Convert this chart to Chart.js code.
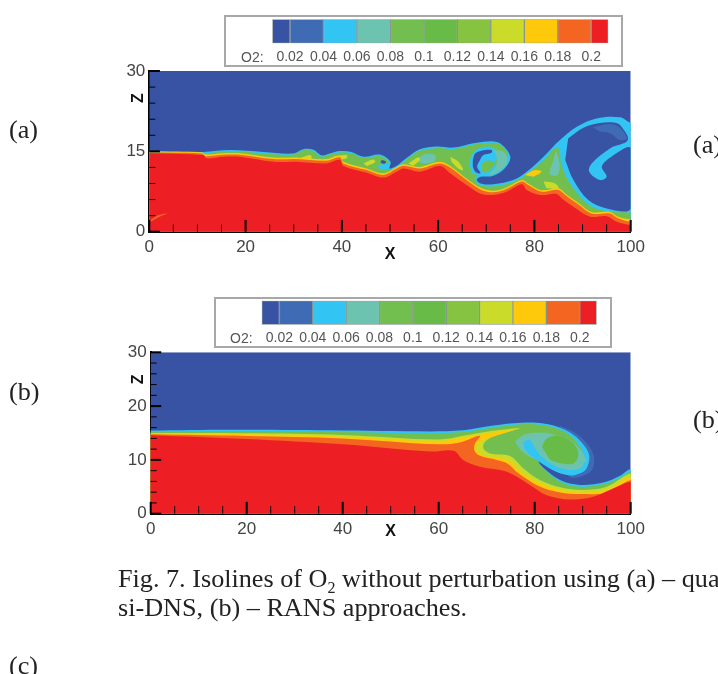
<!DOCTYPE html>
<html>
<head>
<meta charset="utf-8">
<title>Fig. 7</title>
<script src="https://cdn.jsdelivr.net/npm/chart.js@4"></script>
<style>
  html, body { margin: 0; background: #fff; }
  #page { position: relative; width: 718px; height: 674px; overflow: hidden; }
  #page canvas { position: absolute; filter: blur(0.6px); }
  .frame { position: absolute; box-sizing: border-box; border: 2px solid #a8a8a8; }
  .o2 { position: absolute; font: 14px "Liberation Sans", sans-serif; color: #555; filter: blur(0.4px); }
  .txt { position: absolute; font: 26.2px/30px "Liberation Serif", serif; color: #222; white-space: nowrap; filter: blur(0.3px); }
  sub { font-size: 16px; line-height: 0; }
</style>
</head>
<body>
<div id="page">
  <div class="txt" style="left:9px;top:115px">(a)</div>
  <div class="txt" style="left:693px;top:130px">(a)</div>
  <div class="txt" style="left:9px;top:377px">(b)</div>
  <div class="txt" style="left:693px;top:405px">(b)</div>
  <div class="txt" style="left:118px;top:564px">Fig. 7. Isolines of O<sub>2</sub> without perturbation using (a) – qua</div>
  <div class="txt" style="left:118px;top:593px">si-DNS, (b) – RANS approaches.</div>
  <div class="txt" style="left:9px;top:651px">(c)</div>

  <div class="frame" style="left:224px;top:15px;width:399px;height:52px"></div>
  <div class="frame" style="left:214px;top:297px;width:398px;height:51px"></div>
  <div class="o2" style="left:241px;top:49px">O2:</div>
  <div class="o2" style="left:230px;top:330px">O2:</div>

  <canvas id="barA" width="398" height="52" style="left:224px;top:15px"></canvas>
  <canvas id="barB" width="398" height="52" style="left:214px;top:297px"></canvas>
  <canvas id="plotA" width="540" height="215" style="left:110px;top:55px"></canvas>
  <canvas id="plotB" width="540" height="215" style="left:110px;top:336px"></canvas>
</div>

<script>
// Colour scale
const levelEdges = [0.0094, 0.02, 0.04, 0.06, 0.08, 0.1, 0.12, 0.14, 0.16, 0.18, 0.2, 0.2102];
const levelTicks = [0.02, 0.04, 0.06, 0.08, 0.1, 0.12, 0.14, 0.16, 0.18, 0.2];
const levelColors = ['#3953a4', '#3e6bb3', '#32c5f4', '#6cc4b0', '#72bf50', '#68bb46', '#86c341', '#cbdb2a', '#fdc90a', '#f46522', '#ed1f24'];

// Axis ticks
const xLabels = [0, 20, 40, 60, 80, 100];
const xMinor = [5, 10, 15, 25, 30, 35, 45, 50, 55, 65, 70, 75, 85, 90, 95];
const zLabelsA = [0, 15, 30];
const zMinorA = [3, 6, 9, 12, 18, 21, 24, 27];
const zLabelsB = [0, 10, 20, 30];
const zMinorB = [2, 4, 6, 8, 12, 14, 16, 18, 22, 24, 26, 28];

// Whole domain, O2 below 0.02
const domain = [[0, 0], [100, 0], [100, 30], [0, 30]];

// Panel (a), quasi-DNS: contour outlines read as [x, z]
const aCyan = [[0,15.1],[5.7,15],[11.2,14.9],[16.8,15.25],[23.7,14.9],[29.9,14.6],[32,15.4],[34.1,15.3],[35.8,14.25],[37.5,14.6],[39.6,15.05],[42,14.9],[44.5,14],[47.9,14.4],[50.1,13.05],[49.9,11.8],[51.4,12.3],[53.5,13.8],[56.2,15.4],[59.7,15.9],[63.2,15.7],[68,16.6],[72.2,16.75],[74.2,15.35],[75,13.7],[73.7,11.7],[71.3,10.4],[68.8,10.25],[68,9.65],[69,8.95],[71.5,8.85],[75.6,9.65],[78.4,11.2],[81.9,14],[85.3,17.1],[88.8,19.6],[92.9,21.15],[97.8,21.35],[100,20.35]];
const aVortex = [[87,17.4],[90.2,19.4],[93.6,20.3],[96.4,20.4],[97.8,19.9],[99.4,17.1],[95.7,15.55],[91.9,12.75],[91.4,11.2],[93.6,9.65],[95,10.25],[94,12.15],[96,14],[100,15.55],[100,4.35],[95,4.35],[91.2,5.9],[88.1,9.65],[86.4,13.4]];
const aVortexEdge = [[92.2,19.5],[95.7,20.1],[97.8,19.4],[99.2,17.4],[97.8,17.1],[95.7,18.4],[93.6,18.65]];
const aGreen = [[0,14.85],[5.7,14.75],[11.2,14.6],[16.8,15],[23.7,14.6],[29.9,14.4],[32,15.2],[34.1,15.05],[35.6,14],[37.5,14.4],[39.6,14.8],[42,14.6],[44.5,13.75],[47.9,14.1],[49.7,13],[49,11.8],[51.4,12],[53.5,13.55],[56.2,15.1],[59.7,15.6],[63.2,15.4],[68,16.35],[72.2,16.5],[74,15.25],[74.5,13.7],[73.4,11.95],[71.1,10.7],[68.8,10.5],[67.6,10],[68.6,8.7],[71.5,8.5],[75.6,9.3],[78.4,10.75],[81.9,13.4],[84.8,15.7],[85.7,12.15],[87.4,9],[90.9,5.3],[94.3,3.9],[100,3.6]];
const aSwirlCyan = [[66.6,12.15],[66.8,14],[68.2,15.5],[71.1,15.8],[72.4,14.6],[71.9,13],[72,11.5],[70.5,10.6],[68.5,10.5],[67,10.9]];
const aSwirlCore = [[67.2,13.4],[67.7,14.6],[69,15.1],[71.1,15.25],[71.1,14.75],[69.4,14.3],[68.7,13.4],[68.1,12.15],[68.8,10.9],[67.7,11.2],[67.2,12.15]];
const aSwirlBlob = [[69,12.6],[70.2,13.3],[71.7,12.9],[71.2,11.8],[69.8,11],[69,11.5]];
const aSwirlTeal = [[71.5,15.25],[73.5,14.95],[74.4,13.7],[73.8,12.15],[71.8,10.9],[70.6,10.65],[72,12.15],[72.2,14]];
const aTealMid = [[55.9,13.7],[57.3,14.5],[59.3,14.3],[59.3,13.25],[57.3,12.75],[56.1,12.9]];
const aTealArc = [[84.5,15.25],[85.2,12.75],[84.8,10.6],[83.2,10.75],[83.8,13.05]];
const aSmallCyan = [[47.4,12.15],[49.3,12.75],[49.3,11.8],[47.9,11.5]];
const aSmallCore = [[48.3,13.4],[49.2,13.1],[48.8,12.65],[48,12.9]];
const aYellow = [[0,14.8],[10.9,14.85],[11.6,14.4],[15.4,14.65],[18.8,14.65],[25.8,13.85],[30.6,13.85],[36.8,13.55],[39.6,14.2],[40.3,13.05],[45.2,11.8],[48.6,10.9],[51.4,12.1],[52.8,12.6],[56.2,12.1],[60.4,13.05],[62.8,12.1],[66.3,9.65],[69,8.1],[71.5,7.65],[74.2,8.25],[77.4,9.65],[78.7,9],[81.5,7.75],[85,8.1],[86.4,7.15],[88.8,5.6],[91.9,3.7],[95.7,3.7],[97.4,2.8],[100,2.3]];
const aPatch1 = [[78,10.6],[80.1,11.5],[81.5,11.2],[79.8,10.25]];
const aPatch2 = [[81.9,9.35],[84.3,9],[85,8.1],[82.5,8.1]];
const aPatch3 = [[62.5,14],[64.2,13.05],[65.2,11.5],[64.2,11.8],[62.8,13.05]];
const aPatch4 = [[53.8,12.75],[55.9,13.9],[56.2,13.4],[54.8,12.3]];
const aPatch5 = [[44.5,12.75],[46.5,13.5],[46.9,12.95],[45.2,12.25]];
const aPatch6 = [[31.3,13.7],[33.4,14.3],[33.7,13.7],[32,13.05]];
const aPatch7 = [[38.2,14],[41,14.3],[41,13.7],[38.9,13.4]];
const aOrange = [[0,14.75],[10.9,14.6],[11.6,14.1],[15.4,14.35],[18.8,14.35],[25.8,13.55],[30.6,13.55],[36.8,13.25],[39.6,13.9],[40.3,12.75],[45.2,11.5],[48.6,10.6],[51.4,11.8],[52.8,12.3],[56.2,11.8],[60.4,12.75],[62.8,11.8],[66.3,9.35],[69,7.8],[71.5,7.35],[74.2,7.95],[77.4,9.35],[78.7,8.7],[81.5,7.45],[85,7.8],[86.4,6.85],[88.8,5.3],[91.9,3.4],[95.7,3.4],[97.4,2.5],[100,1.85]];
const aRed = [[0,14.65],[11.2,14.3],[11.9,13.7],[15.4,14],[18.8,14],[25.8,13.05],[30.6,13.05],[36.8,12.75],[39.6,13.4],[40.3,12.25],[45.2,11],[48.6,10.1],[51.4,11.2],[52.8,11.8],[56.2,11.2],[60.4,12.25],[62.5,10.9],[65.9,8.7],[68.7,7.15],[71.5,6.85],[74.2,7.45],[77.4,8.85],[78.4,7.8],[81.2,6.85],[84.6,7.05],[85.7,6.2],[88.1,4.65],[91.6,2.8],[95,2.9],[97.1,1.85],[100,1.25]];
const aStreak = [[0.3,2.2],[1.9,3.1],[3.75,3.4],[1.9,2.7],[0.3,1.85]];

// Panel (b), RANS
const bEdge = [[85.3,16.35],[88.8,14.8],[91.4,12.45],[92.4,10.3],[91.9,8.1],[90.1,7.05],[87.4,6.75],[86,9.05],[82.5,12.75]];
const bCyan = [[0,15.45],[16.5,15.6],[37.4,15.5],[58.2,15.3],[65.1,15.5],[70,16.2],[75.6,16.8],[80.4,16.9],[84.6,16.2],[88.1,14.65],[90.5,12.45],[91.4,10.6],[90.8,8.45],[89.4,7.5],[87.4,7.2],[83.9,8.1],[81.1,9.65],[80.3,10.1],[81.8,8.55],[85.3,6.25],[89.4,5.35],[94.3,5.8],[97.8,7.05],[100,8.3]];
const bGreen = [[0,15.2],[16.5,15.35],[37.4,15.25],[58.2,14.95],[65.1,15.2],[70,15.85],[75.6,16.5],[80.4,16.6],[84.6,15.85],[87.4,14.5],[89.4,12.45],[90.2,10.6],[89.8,8.75],[88.8,8.1],[86.7,8.55],[83.9,10.3],[81.8,11.55],[80.8,9.8],[82.2,8.1],[85.3,5.95],[89.4,5],[94.3,5.5],[97.8,6.7],[100,7.8]];
const bTeal = [[75.9,13.4],[78,14.75],[82.2,15.05],[84.2,14.65],[87.4,13.7],[89.8,11.55],[90.8,9.65],[90.1,8.1],[87.4,7.3],[84.6,7.8],[81.8,9.65],[79,10.6],[77,11.85]];
const bBlob = [[81.5,12.45],[82.5,14],[84.9,14.45],[87.7,13.4],[89.1,11.2],[88.1,9.35],[85.6,9.35],[83.2,10]];
const bStreak = [[77.6,13.4],[79,13.7],[80.1,12.15],[81.8,10.3],[84,9],[86,8.3],[88,8.1],[89.8,8.6],[90.4,9.6],[91,9],[90.4,8],[89,7.4],[87.4,7.1],[83.9,8.05],[81.1,9.55],[79,10.9],[77.8,12.15]];
const bLime = [[0,15],[20,14.95],[40,14.65],[60,13.8],[65.1,14.5],[70,15.25],[76.9,15.85],[72.1,14.65],[69.7,13.4],[69.3,12.15],[70.7,11.2],[74.2,10.9],[75.6,10.3],[77.6,8.45],[81.1,6.25],[85.3,4.9],[90.1,4.4],[95,5],[100,7.5]];
const bYellow = [[0,14.85],[20,14.75],[40,14.3],[60,13.5],[65.1,14.15],[70,14.9],[75.6,15.55],[71.4,14.3],[68.6,13.4],[67.8,12.15],[69,10.9],[72.8,10.3],[74.9,9.65],[76.9,7.8],[81.1,5.65],[85.3,4.4],[89.4,3.95],[95,4.4],[100,6.9]];
const bOrange = [[0,14.75],[20,14.45],[40,14],[60,12.9],[64.4,13.25],[68.6,14.5],[67.6,13.1],[67.4,11.85],[68.5,10.8],[72.1,10],[74.3,9.35],[76.6,7.5],[80.8,5.15],[85.3,3.95],[89.4,3.65],[95,3.95],[100,6.25]];
const bRed = [[0,14.6],[20,13.9],[40,12.9],[58.2,11.55],[63.1,11.7],[65.1,10],[68.6,8.75],[74.2,7.8],[79,5.35],[82.5,3.45],[87.4,2.65],[92.2,3.15],[97.1,5],[100,5.95]];

// Continue an outline down past the frame so the area under it fills right to the corners
function toFloor(pts) {
    const first = pts[0], last = pts[pts.length - 1];
    return [...pts, [104, last[1]], [104, -4], [-4, -4], [-4, first[1]]];
}

const C = {
    deep: levelColors[0], mid: levelColors[1], cyan: levelColors[2], teal: levelColors[3],
    green: levelColors[4], green2: levelColors[5], lime: levelColors[7],
    yellow: levelColors[8], orange: levelColors[9], red: levelColors[10]
};

// Painted back to front
const layersA = [
    [domain, C.deep], [toFloor(aCyan), C.cyan], [aVortex, C.deep], [aVortexEdge, C.mid],
    [toFloor(aGreen), C.green], [aSwirlCyan, C.cyan], [aSwirlCore, C.deep], [aSwirlBlob, C.green], [aSwirlTeal, C.teal],
    [aTealMid, C.teal], [aTealArc, C.teal], [aSmallCyan, C.cyan], [aSmallCore, C.deep],
    [aPatch1, C.yellow], [aPatch2, C.lime], [aPatch3, C.lime], [aPatch4, C.lime], [aPatch5, C.lime], [aPatch6, C.lime], [aPatch7, C.lime],
    [toFloor(aYellow), C.yellow], [toFloor(aOrange), C.orange], [toFloor(aRed), C.red], [aStreak, C.orange]
];
const layersB = [
    [domain, C.deep], [bEdge, C.mid], [toFloor(bCyan), C.cyan], [toFloor(bGreen), C.green],
    [bTeal, C.teal], [bBlob, C.green2], [bStreak, C.cyan],
    [toFloor(bLime), C.lime], [toFloor(bYellow), C.yellow], [toFloor(bOrange), C.orange], [toFloor(bRed), C.red]
];

// Inward tick marks, one short line each
function tickMarks(values, vertical, len, width) {
    return values.map(v => ({
        data: vertical ? [{x: v, y: 0}, {x: v, y: len}] : [{x: 0, y: v}, {x: len, y: v}],
        showLine: true, borderColor: '#000', borderWidth: width, pointRadius: 0, tension: 0, clip: false, order: -1
    }));
}

function contourChart(id, layers, zTicks, zMinor, box) {
    const n = layers.length;
    const datasets = layers.map((l, i) => ({
        data: l[0].map(p => ({x: p[0], y: p[1]})),
        showLine: true, fill: 'shape', backgroundColor: l[1], borderWidth: 0, pointRadius: 0,
        tension: i === 0 ? 0 : 0.35, order: n - i
    }));
    datasets.push(...tickMarks(xLabels, true, 2.2, 2));
    datasets.push(...tickMarks(xMinor, true, 1.4, 1));
    datasets.push(...tickMarks(zTicks, false, 2.2, 2));
    datasets.push(...tickMarks(zMinor, false, 1.25, 1));

    const tickFont = {family: '"Liberation Sans", sans-serif', size: 17};
    const titleFont = {family: '"Liberation Sans", sans-serif', size: 16, weight: 'bold'};
    new Chart(document.getElementById(id), {
        type: 'scatter',
        data: {datasets: datasets},
        options: {
            responsive: false,
            animation: false,
            events: [],
            layout: {padding: {top: box.top, right: box.right}},
            plugins: {legend: {display: false}, tooltip: {enabled: false}},
            scales: {
                x: {
                    min: 0, max: 100,
                    grid: {display: false, drawTicks: false},
                    border: {color: '#000', width: 2},
                    ticks: {color: '#444', font: tickFont, padding: 5, maxRotation: 0, autoSkip: false},
                    afterBuildTicks: s => { s.ticks = xLabels.map(v => ({value: v})); },
                    afterFit: s => { s.height = box.xHeight; },
                    title: {display: true, text: 'X', color: '#111', font: titleFont, padding: {top: 0, bottom: box.xTitlePad}}
                },
                y: {
                    min: 0, max: 30,
                    grid: {display: false, drawTicks: false},
                    border: {color: '#000', width: 2},
                    ticks: {color: '#444', font: tickFont, padding: 4, autoSkip: false},
                    afterBuildTicks: s => { s.ticks = zTicks.map(v => ({value: v})); },
                    afterFit: s => { s.width = box.yWidth; },
                    title: {display: true, text: 'Z     ', align: 'end', color: '#111', font: titleFont, padding: {top: 19.4, bottom: 0}}
                }
            }
        }
    });
}

function colorBar(id, box) {
    new Chart(document.getElementById(id), {
        type: 'bar',
        data: {
            labels: ['O2'],
            datasets: levelColors.map((c, i) => ({
                data: [[levelEdges[i], levelEdges[i + 1]]],
                backgroundColor: c, borderColor: 'rgba(30,60,50,0.45)', borderWidth: 1, borderSkipped: false,
                grouped: false, barPercentage: 1, categoryPercentage: 1
            }))
        },
        options: {
            indexAxis: 'y',
            responsive: false,
            animation: false,
            events: [],
            layout: {padding: {left: box.left, right: box.right, top: box.top}},
            plugins: {legend: {display: false}, tooltip: {enabled: false}},
            scales: {
                y: {display: false},
                x: {
                    type: 'linear',
                    min: levelEdges[0], max: levelEdges[levelEdges.length - 1],
                    grid: {display: false, drawTicks: false},
                    border: {display: false},
                    ticks: {color: '#555', font: {family: '"Liberation Sans", sans-serif', size: 14}, padding: 5, maxRotation: 0, autoSkip: false, callback: v => String(v)},
                    afterBuildTicks: s => { s.ticks = levelTicks.map(v => ({value: v})); },
                    afterFit: s => { s.height = box.height; }
                }
            }
        }
    });
}

contourChart('plotA', layersA, zLabelsA, zMinorA, {top: 16, right: 19.3, yWidth: 39.3, xHeight: 38.3, xTitlePad: 5.4});
contourChart('plotB', layersB, zLabelsB, zMinorB, {top: 16.3, right: 19.3, yWidth: 40.7, xHeight: 37.3, xTitlePad: 9.4});
colorBar('barA', {left: 48.3, right: 13.7, top: 4.3, height: 23.7});
colorBar('barB', {left: 47.7, right: 15.3, top: 3.7, height: 24.3});
</script>
</body>
</html>
